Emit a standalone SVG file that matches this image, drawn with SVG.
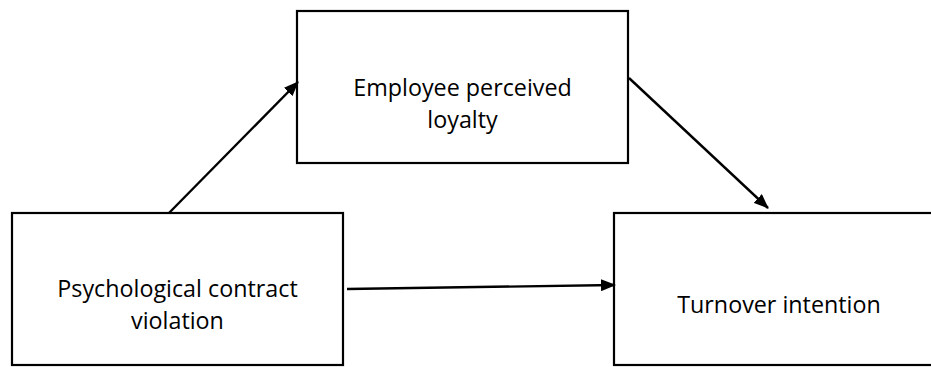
<svg xmlns="http://www.w3.org/2000/svg" width="931" height="367" viewBox="0 0 931 367">
<style>
.box{fill:#fff;stroke:#000;stroke-width:2.2}
.lbl{font-family:"Open Sans","Noto Sans",sans-serif;font-size:23.3px;fill:#000;text-anchor:middle}
.con{stroke:#000;stroke-width:2.4;fill:none;marker-end:url(#ah)}
</style>
<defs>
<marker id="ah" markerWidth="15" markerHeight="12" refX="14" refY="6" orient="auto" markerUnits="userSpaceOnUse">
<path d="M0,0 L15,6 L0,12 Z" fill="#000"/>
</marker>
</defs>
<rect width="931" height="367" fill="#fff"/>
<g id="node-loyalty">
<rect class="box" x="297" y="11" width="331" height="152"/>
<text class="lbl" x="462.5" y="96">Employee perceived</text>
<text class="lbl" x="462.5" y="128">loyalty</text>
</g>
<g id="node-violation">
<rect class="box" x="12" y="213" width="331" height="152"/>
<text class="lbl" x="177.5" y="297">Psychological contract</text>
<text class="lbl" x="177.5" y="329">violation</text>
</g>
<g id="node-turnover">
<rect class="box" x="614" y="213" width="330" height="152"/>
<text class="lbl" x="779" y="313">Turnover intention</text>
</g>
<g id="connectors">
<line class="con" x1="169" y1="213" x2="298" y2="82"/>
<line class="con" x1="629" y1="78" x2="768" y2="208"/>
<line class="con" x1="347" y1="289" x2="615" y2="285"/>
</g>
</svg>
